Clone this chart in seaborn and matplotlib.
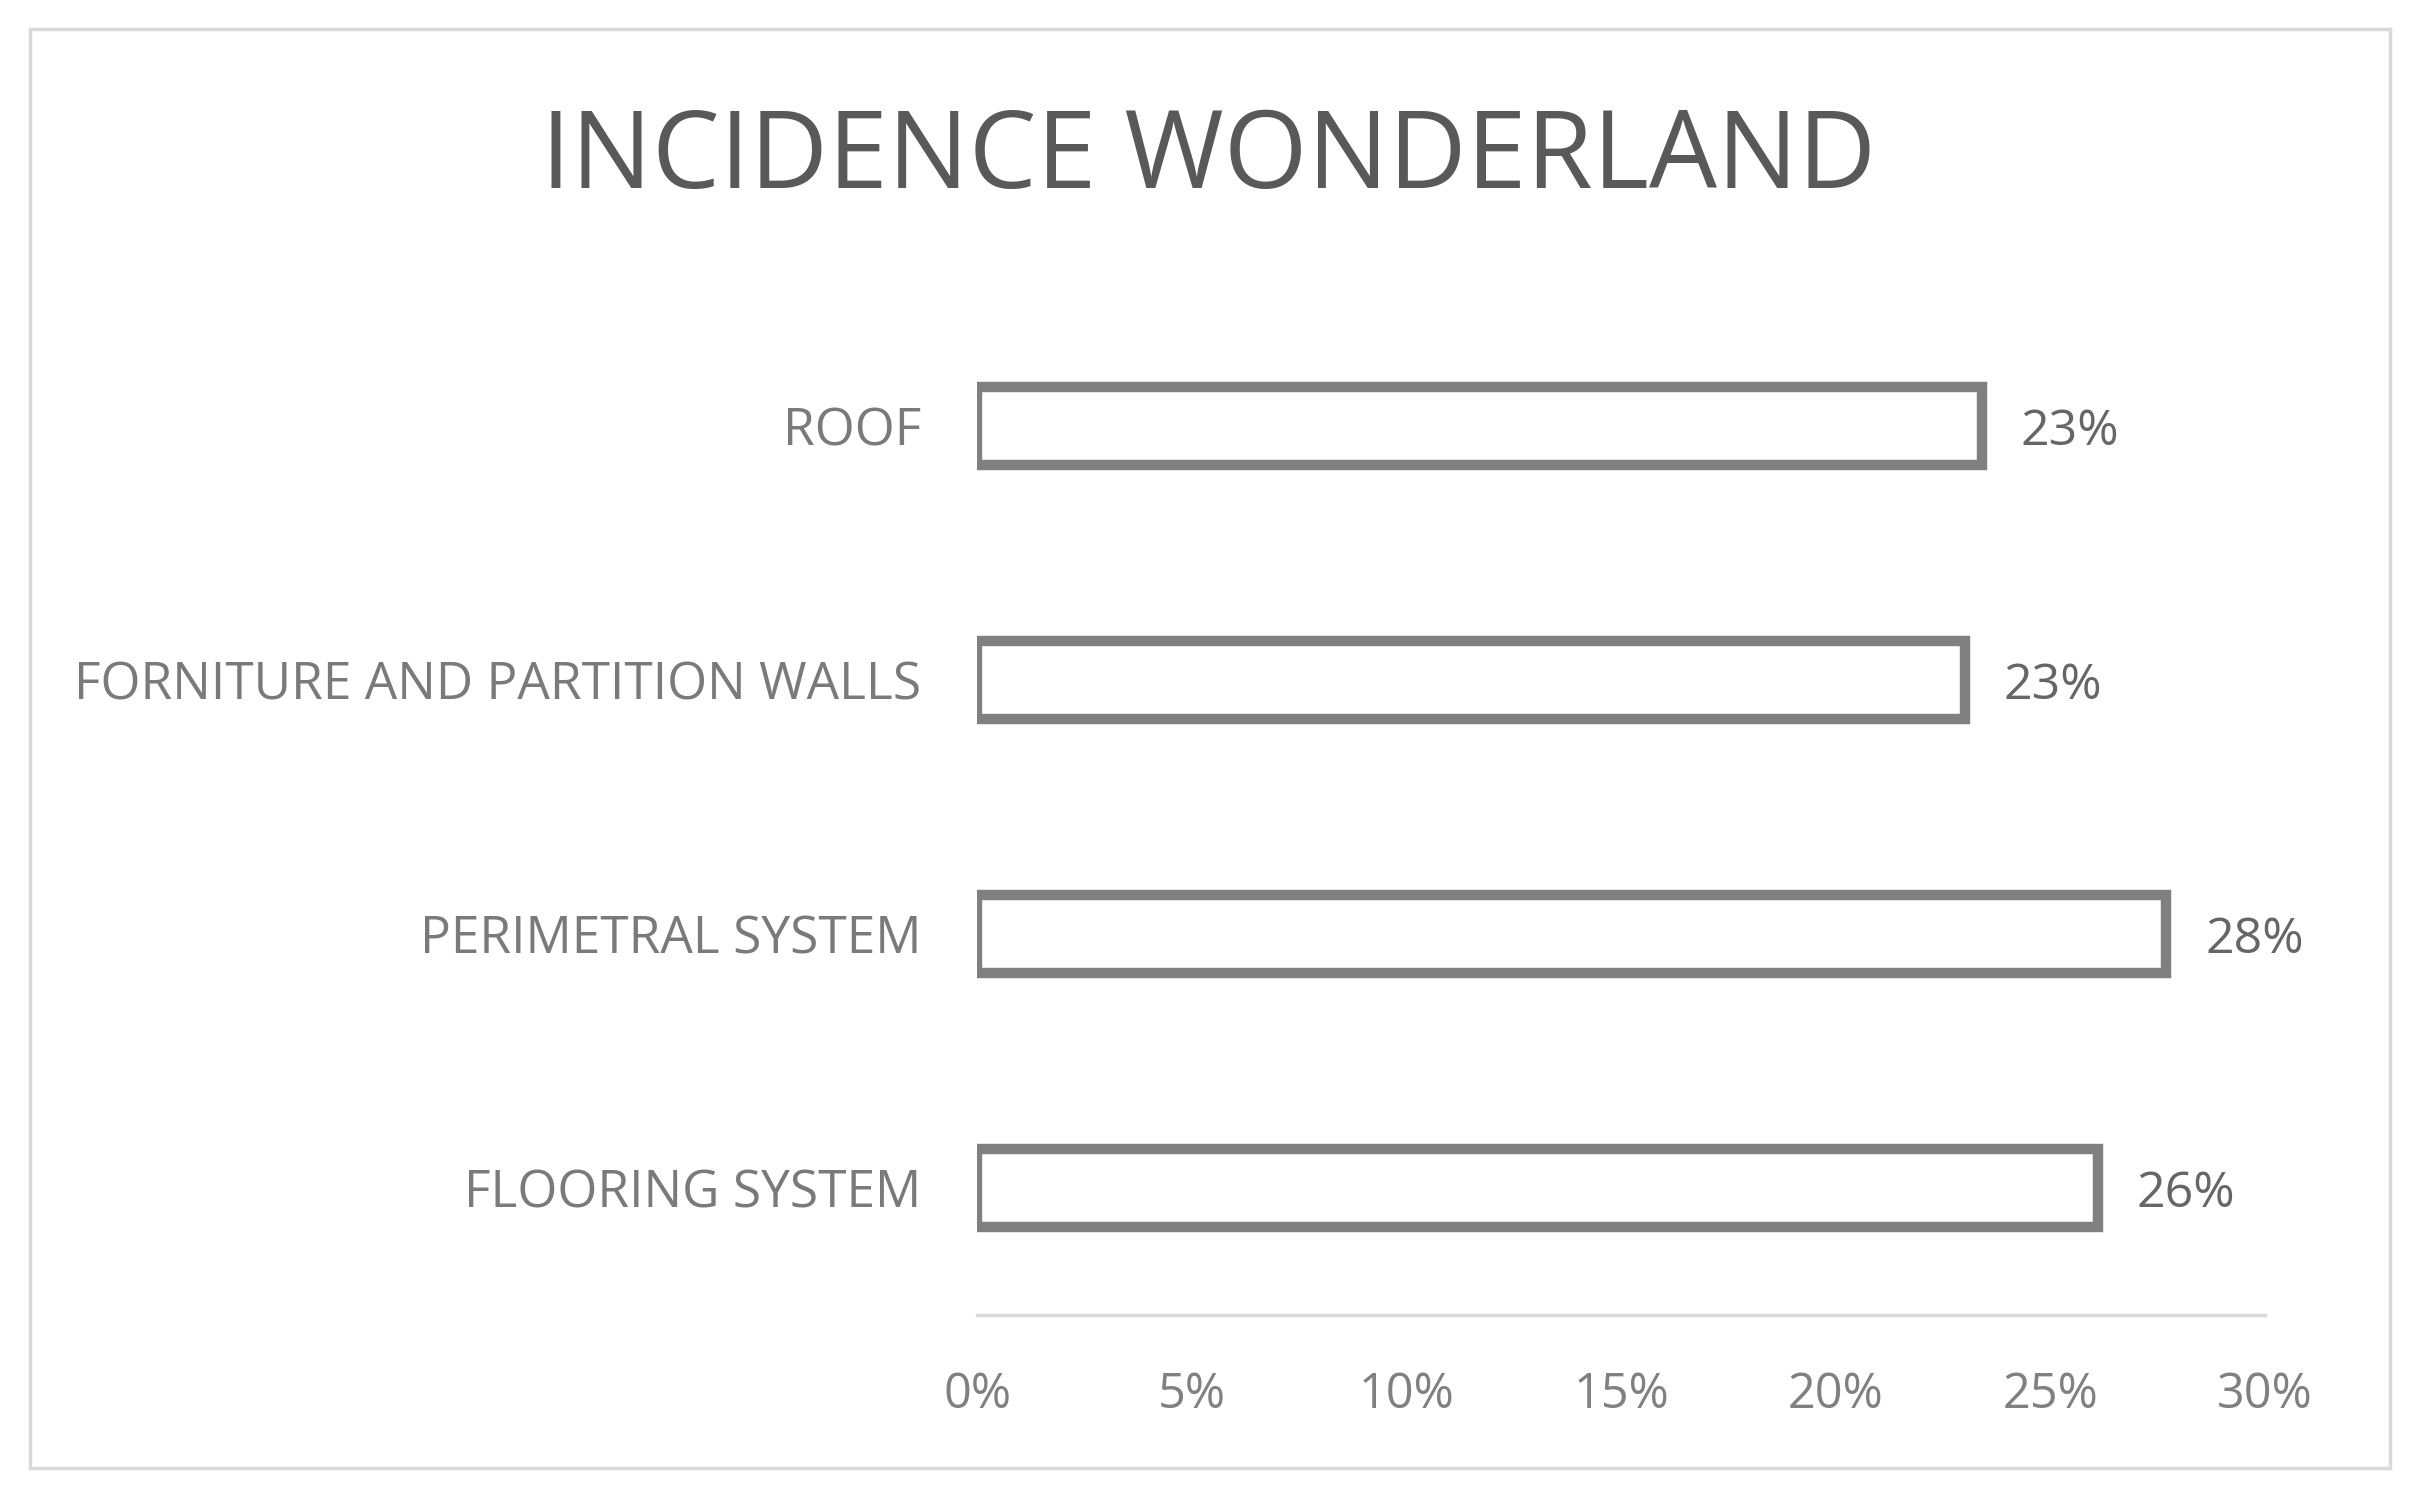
import matplotlib
matplotlib.use("Agg")
import matplotlib.pyplot as plt
import seaborn as sns
import pandas as pd
from matplotlib.patches import Rectangle

# values (share of incidence)
categories = ["ROOF", "FORNITURE AND PARTITION WALLS", "PERIMETRAL SYSTEM", "FLOORING SYSTEM"]
values = [0.234, 0.230, 0.277, 0.261]
x_ticks = [0, 0.05, 0.10, 0.15, 0.20, 0.25, 0.30]
x_tick_labels = ["0%", "5%", "10%", "15%", "20%", "25%", "30%"]
title = "INCIDENCE WONDERLAND"

df = pd.DataFrame({"part": categories, "share": values})

sns.set_theme(style="white")
plt.rcParams["font.family"] = ["Open Sans", "DejaVu Sans"]

fig = plt.figure(figsize=(24.21, 15.06), dpi=100)
ax = fig.add_axes([0.4036, 0.1268, 0.9356 - 0.4036, 0.8015 - 0.1268])

sns.barplot(data=df, x="share", y="part", orient="h", ax=ax,
            color="white", edgecolor="#808080", linewidth=7.5, width=0.31)

ax.set_xlim(0, 0.30)
ax.set_ylim(3.5, -0.5)
ax.set_xticks(x_ticks)
ax.set_xticklabels(x_tick_labels)
ax.set_xlabel("")
ax.set_ylabel("")

for side in ["top", "right", "left"]:
    ax.spines[side].set_visible(False)
ax.spines["bottom"].set_color("#d9d9d9")
ax.spines["bottom"].set_linewidth(2.5)

ax.tick_params(axis="x", length=0, pad=40, labelsize=35, labelcolor="#808080")
ax.tick_params(axis="y", length=0, pad=40, labelsize=37, labelcolor="#7a7a7a")

labels = ax.bar_label(ax.containers[0], labels=[f"{v:.0%}" for v in values],
                      padding=28, fontsize=36, color="#666666")
for t in labels:
    t.set_va("center_baseline")

fig.text(0.4994, 0.894, title, ha="center", va="center",
         fontsize=77.5, color="#595959")

# thin light frame around the whole chart
fig.patches.append(Rectangle((30 / 2421, 1 - 1468 / 1506), (2390 - 30) / 2421,
                             (1468 - 29) / 1506, transform=fig.transFigure,
                             fill=False, edgecolor="#d9d9d9", linewidth=2.5))

fig.savefig("out.png", dpi=100, facecolor="white")
